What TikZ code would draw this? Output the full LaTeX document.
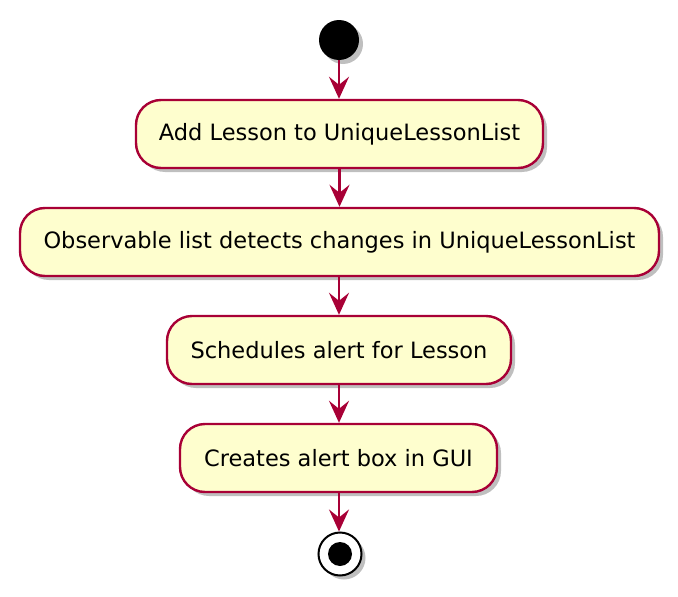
\documentclass[tikz,border=0pt]{standalone}
\usepackage{fontspec}
\setmainfont{DejaVu Sans}
\usetikzlibrary{arrows.meta,shadows}
\definecolor{plborder}{HTML}{A80036}
\definecolor{plfill}{HTML}{FEFECE}
\tikzset{
  shad/.style={drop shadow={shadow xshift=4pt,shadow yshift=-4pt,opacity=0.25,fill=black}},
  act/.style={draw=plborder,line width=2.4pt,fill=plfill,rounded corners=25pt,shad,
    minimum height=68pt,inner sep=0pt,font=\fontsize{22.5}{27}\selectfont},
  flow/.style={draw=plborder,line width=2.4pt,-{Stealth[length=22pt,width=20pt,inset=8pt]}}
}
\begin{document}
\begin{tikzpicture}[x=1pt,y=-1pt]
\useasboundingbox (0,0) rectangle (678,597);
\node[circle,fill=black,minimum size=40pt,inner sep=0pt,shad] (start) at (339,40) {};
\node[act,minimum width=407pt] (a1) at (339.5,134) {Add Lesson to UniqueLessonList};
\node[act,minimum width=639pt] (a2) at (339.5,242) {Observable list detects changes in UniqueLessonList};
\node[act,minimum width=344pt] (a3) at (339,350) {Schedules alert for Lesson};
\node[act,minimum width=317pt] (a4) at (338.5,458) {Creates alert box in GUI};
\node[circle,draw=black,line width=2pt,fill=white,minimum size=43pt,inner sep=0pt,shad] (stop) at (340,554) {};
\node[circle,fill=black,minimum size=24pt,inner sep=0pt] (stopin) at (stop.center) {};
\draw[flow] (start) -- (start |- a1.north);
\draw[flow] (a1) -- (a1 |- a2.north);
\draw[flow] (a2.south -| start) -- (start |- a3.north);
\draw[flow] (a3.south -| start) -- (start |- a4.north);
\draw[flow] (a4.south -| start) -- (start |- stop.north);
\end{tikzpicture}
\end{document}
